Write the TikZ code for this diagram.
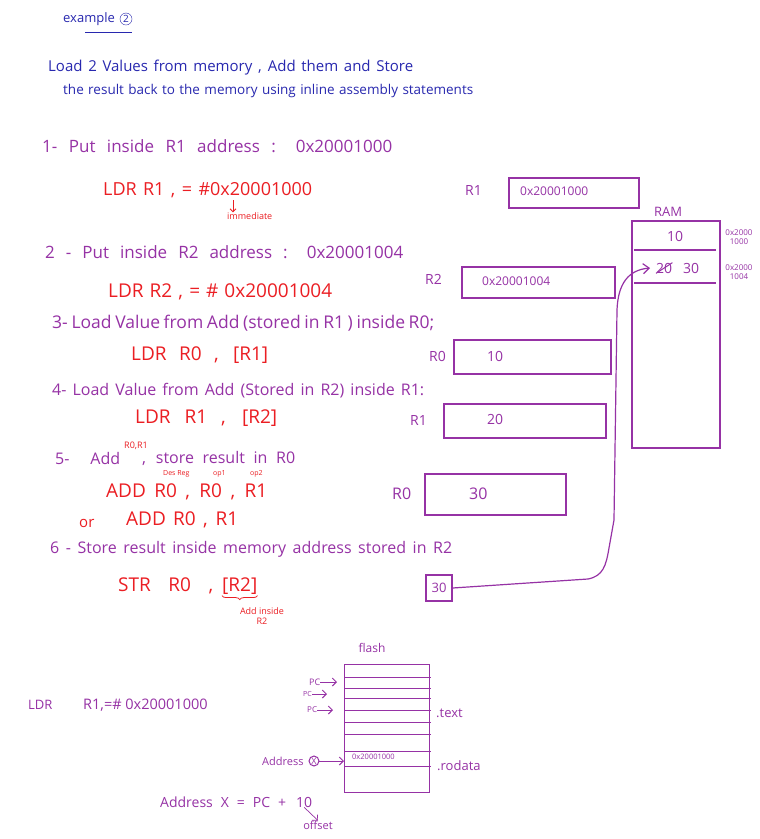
\documentclass[tikz,border=0pt]{standalone}
\usepackage{fontspec}
\setmainfont{Open Sans}
\usetikzlibrary{arrows.meta,decorations.pathreplacing}
\definecolor{inkblue}{RGB}{40,40,175}
\definecolor{inkpu}{RGB}{150,50,165}
\definecolor{inkred}{RGB}{235,30,35}
\newcommand{\wbox}[2]{\makebox[#1][s]{#2}}
\begin{document}
\begin{tikzpicture}[x=1pt,y=-1pt,
  bl/.style={text=inkblue,font=\fontsize{15}{18}\selectfont,anchor=west,inner sep=0pt},
  pu/.style={text=inkpu,font=\fontsize{16}{19}\selectfont,anchor=west,inner sep=0pt},
  rd/.style={text=inkred,font=\fontsize{19}{22}\selectfont,anchor=west,inner sep=0pt},
  smp/.style={text=inkpu,font=\fontsize{8}{9}\selectfont,inner sep=0pt,align=center},
  smr/.style={text=inkred,font=\fontsize{9}{10}\selectfont,inner sep=0pt,anchor=west},
  regbox/.style={draw=inkpu,line width=1.6pt,anchor=north west,inner sep=0pt},
  val/.style={text=inkpu,font=\fontsize{14}{16}\selectfont,anchor=west,inner sep=0pt},
  pline/.style={draw=inkpu,line width=1.2pt},
  parrow/.style={draw=inkpu,line width=1pt,-{Straight Barb[length=4pt]}},
]
\useasboundingbox[fill=white] (0,0) rectangle (760,839);

% title
\node[bl,font=\fontsize{13}{15}\selectfont] (ex) at (63,19) {example};
\node[circle,draw=inkblue,text=inkblue,inner sep=1pt,font=\fontsize{10}{11}\selectfont] (c2) at (126,19) {2};
\draw[inkblue,line width=1pt] (85,32) -- (132,32);
\node[bl] (l1) at (48,68) {\wbox{365pt}{Load 2 Values from memory , Add them and Store}};
\node[bl,font=\fontsize{13.5}{16}\selectfont] (l2) at (63,91) {\wbox{410pt}{the result back to the memory using inline assembly statements}};

% step 1
\node[pu,font=\fontsize{17}{20}\selectfont] (s1) at (42,146) {\wbox{350pt}{1- Put inside R1 address : 0x20001000}};
\node[rd,font=\fontsize{18}{21}\selectfont] (i1) at (103,190) {\wbox{209pt}{LDR R1 , = \#0x20001000}};
\node[smr] (imm) at (227,216) {immediate};
\coordinate (hash) at (233,200);
\draw[inkred,line width=0.8pt,-{Straight Barb[length=3pt]}] (hash) -- (hash |- imm.north);

% R1 register
\node[val] (r1l) at (465,190) {R1};
\node[regbox,minimum width=130pt,minimum height=30pt] (r1box) at (508,177) {};
\node[val,font=\fontsize{12}{14}\selectfont] (r1v) at (520,191) {0x20001000};

% RAM
\node[text=inkpu,font=\fontsize{13}{15}\selectfont,inner sep=0pt] (raml) at (668,212) {RAM};
\node[regbox,minimum width=88pt,minimum height=227pt] (ram) at (631,220) {};
\draw[pline] (634,250) -- (716,250);
\draw[pline] (634,283) -- (716,283);
\node[val] (m1) at (667,236) {10};
\node[val] (m2old) at (656,268) {20};
\draw[pline,line width=1pt] (m2old.south west) -- (m2old.north east);
\node[val] (m2) at (683,268) {30};
\node[smp] (a1) at (739,237) {0x2000\\1000};
\node[smp] (a2) at (739,272) {0x2000\\1004};

% step 2
\node[pu,font=\fontsize{17}{20}\selectfont] (s2) at (45,252) {\wbox{358pt}{2 - Put inside R2 address : 0x20001004}};
\node[rd] (i2) at (108,292) {\wbox{224pt}{LDR R2 , = \# 0x20001004}};
\node[val] (r2l) at (425,279) {R2};
\node[regbox,minimum width=153pt,minimum height=31pt] (r2box) at (461,266) {};
\node[val,font=\fontsize{12}{14}\selectfont] (r2v) at (482,281) {0x20001004};

% step 3
\node[pu,font=\fontsize{17.5}{20}\selectfont] (s3) at (52,323) {\wbox{382pt}{3- Load Value from Add (stored in R1 ) inside R0;}};
\node[rd] (i3) at (131,355) {\wbox{137pt}{LDR R0 , [R1]}};
\node[val] (r0l) at (429,356) {R0};
\node[regbox,minimum width=157pt,minimum height=34pt] (r0box) at (453,339) {};
\node[val] (r0v) at (487,356) {10};

% step 4
\node[pu] (s4) at (52,391) {\wbox{372pt}{4- Load Value from Add (Stored in R2) inside R1:}};
\node[rd] (i4) at (135,418) {\wbox{142pt}{LDR R1 , [R2]}};
\node[val] (r1bl) at (410,420) {R1};
\node[regbox,minimum width=162pt,minimum height=34pt] (r1bbox) at (443,403) {};
\node[val] (r1bv) at (487,419) {20};

% step 5
\node[pu] (s5) at (55,458) {\wbox{65pt}{5- Add}};
\node[smr] (sup) at (124,446) {R0,R1};
\node[pu] (s5b) at (142,458) {\wbox{153pt}{, store result in R0}};
\node[smr,font=\fontsize{7}{8}\selectfont] (des) at (163,474) {Des Reg};
\node[smr,font=\fontsize{7}{8}\selectfont] (op1) at (213,474) {op1};
\node[smr,font=\fontsize{7}{8}\selectfont] (op2) at (250,474) {op2};
\node[rd] (i5) at (106,492) {\wbox{161pt}{ADD R0 , R0 , R1}};
\node[val,font=\fontsize{16}{18}\selectfont] (r0bl) at (392,494) {R0};
\node[regbox,minimum width=141pt,minimum height=41pt] (r0bbox) at (424,473) {};
\node[val,font=\fontsize{16}{18}\selectfont] (r0bv) at (469,494) {30};
\node[rd,font=\fontsize{15}{17}\selectfont] (or) at (79,523) {or};
\node[rd] (i5b) at (126,520) {\wbox{112pt}{ADD R0 , R1}};

% step 6
\node[pu] (s6) at (50,549) {\wbox{402pt}{6 - Store result inside memory address stored in R2}};
\node[rd] (i6) at (118,586) {\wbox{95pt}{STR R0 ,}};
\node[rd] (i6b) at (222,586) {[R2]};
\draw[inkred,line width=0.8pt,decorate,decoration={brace,mirror,amplitude=4pt}] ([yshift=-1pt]i6b.south west) -- ([yshift=-1pt]i6b.south east);
\node[smr,anchor=center,align=center] (addin) at (262,616) {Add inside\\R2};

% stored value and path to RAM
\node[draw=inkpu,line width=1.2pt,text=inkpu,inner sep=2pt,minimum width=26pt,minimum height=26pt,font=\fontsize{13}{15}\selectfont] (v30) at (439,588) {30};
\coordinate (ramin) at (650,268);
\draw[pline,-{Straight Barb[length=6pt,width=10pt]}] (v30.east) -- (588,579)
  .. controls (603,576) and (606,566) .. (609,548)
  -- (614,520) -- (617,310)
  .. controls (618,284) and (628,270) .. (ramin);

% flash
\node[text=inkpu,font=\fontsize{12}{14}\selectfont,inner sep=0pt] (flashl) at (372,648) {flash};
\node[regbox,minimum width=85pt,minimum height=128pt,line width=1.4pt] (flash) at (344,664) {};
\foreach \yy in {677,688,698,710,722,734,751,766} {
  \draw[pline,line width=1pt] (344,\yy) -- (431,\yy);
}
\node[pu,font=\fontsize{9}{10}\selectfont] (pc1) at (309,682) {PC};
\coordinate (pc1e) at (337,682);
\draw[parrow] (pc1.east) -- (pc1e);
\node[pu,font=\fontsize{7}{8}\selectfont] (pc2) at (303,694) {PC};
\coordinate (pc2e) at (327,694);
\draw[parrow] (pc2.east) -- (pc2e);
\node[pu,font=\fontsize{8}{9}\selectfont] (pc3) at (307,710) {PC};
\coordinate (pc3e) at (333,710);
\draw[parrow] (pc3.east) -- (pc3e);
\node[pu,font=\fontsize{13}{15}\selectfont] (txt) at (436,713) {.text};
\node[pu,font=\fontsize{11}{13}\selectfont] (addr) at (262,761) {Address};
\node[circle,draw=inkpu,line width=1pt,text=inkpu,inner sep=0.6pt,font=\fontsize{9}{10}\selectfont] (xc) at (314,761) {X};
\draw[parrow] (xc.east) -- (flash.west |- xc);
\node[val,font=\fontsize{7.5}{9}\selectfont] (fv) at (352,757) {0x20001000};
\node[pu,font=\fontsize{13}{15}\selectfont] (rod) at (437,766) {.rodata};
\node[pu,font=\fontsize{13}{15}\selectfont] (ldrf) at (28,705) {LDR};
\node[pu,font=\fontsize{14.5}{17}\selectfont] (ldrf2) at (83,705) {R1,=\# 0x20001000};
\node[pu,font=\fontsize{14}{16}\selectfont] (eq) at (160,802) {\wbox{126pt}{Address X = PC +}};
\node[pu,font=\fontsize{14}{16}\selectfont] (ten) at (296,802) {10};
\node[pu,font=\fontsize{11}{13}\selectfont,anchor=center] (offs) at (318,825) {offset};
\draw[parrow,line width=0.7pt] (ten.south) -- (offs.north);
\end{tikzpicture}
\end{document}
